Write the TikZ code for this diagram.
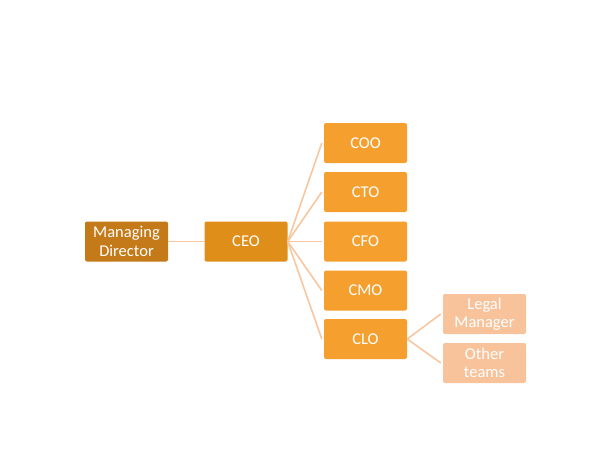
\documentclass[tikz,border=0pt]{standalone}
\usepackage{fontspec}
\setmainfont{Carlito}
\definecolor{mdbrown}{HTML}{C47A18}
\definecolor{ceoorange}{HTML}{E08E1A}
\definecolor{chiefs}{HTML}{F5A02E}
\definecolor{teams}{HTML}{F8C39A}
\definecolor{linkline}{HTML}{F8C6A0}
\tikzset{
  box/.style={rounded corners=2pt,minimum width=83pt,minimum height=40pt,
    inner sep=1pt,text=white,align=center,
    font=\fontsize{16.5}{18.5}\selectfont},
  link/.style={draw=linkline,line width=1.6pt}
}
\begin{document}
\begin{tikzpicture}[x=1pt,y=-1pt]
    \useasboundingbox (0,0) rectangle (596,448);
    % top of the chart
    \node[box,fill=mdbrown] (md) at (126.5,241.5) {Managing\\Director};
    \node[box,fill=ceoorange] (ceo) at (246,241.5) {CEO};
    % chiefs
    \node[box,fill=chiefs] (coo) at (365.5,143) {COO};
    \node[box,fill=chiefs] (cto) at (365.5,192) {CTO};
    \node[box,fill=chiefs] (cfo) at (365.5,241.5) {CFO};
    \node[box,fill=chiefs] (cmo) at (365.5,290.5) {CMO};
    \node[box,fill=chiefs] (clo) at (365.5,339) {CLO};
    % under the CLO
    \node[box,fill=teams] (legal) at (484.5,314) {Legal\\Manager};
    \node[box,fill=teams] (other) at (484.5,363) {Other\\teams};
    \draw[link] (md.east) -- (ceo.west);
    \foreach \c in {coo,cto,cfo,cmo,clo}
        \draw[link] (ceo.east) -- ([xshift=-2pt]\c.west);
    \foreach \t in {legal,other}
        \draw[link] (clo.east) -- ([xshift=-2pt]\t.west);
\end{tikzpicture}
\end{document}
